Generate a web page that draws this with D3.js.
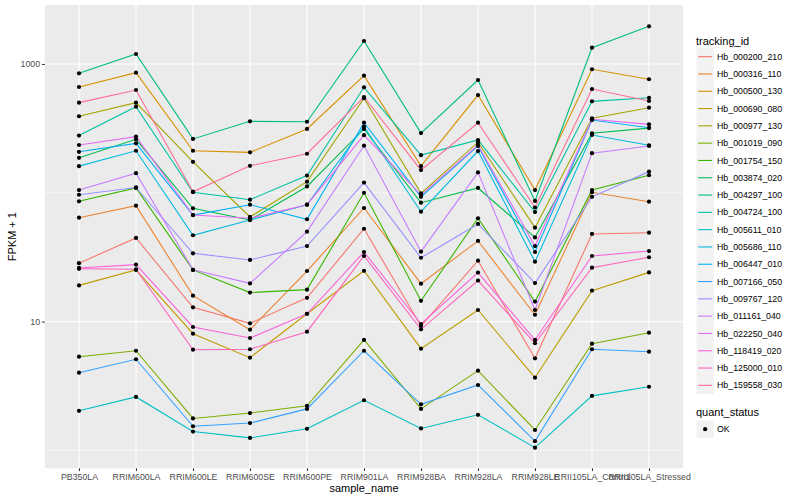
<!DOCTYPE html>
<html><head><meta charset="utf-8">
<script src="https://cdn.jsdelivr.net/npm/d3@7"></script>
<style>body{margin:0;background:#fff}svg{display:block;font-family:"Liberation Sans",Arial,sans-serif}</style>
</head><body><svg id="c" width="800" height="500"></svg>
<script>
const samples = ["PB350LA","RRIM600LA","RRIM600LE","RRIM600SE","RRIM600PE","RRIM901LA","RRIM928BA","RRIM928LA","RRIM928LE","RRII105LA_Control","RRII105LA_Stressed"];
const trackingIds = ["Hb_000200_210","Hb_000316_110","Hb_000500_130","Hb_000690_080","Hb_000977_130","Hb_001019_090","Hb_001754_150","Hb_003874_020","Hb_004297_100","Hb_004724_100","Hb_005611_010","Hb_005686_110","Hb_006447_010","Hb_007166_050","Hb_009767_120","Hb_011161_040","Hb_022250_040","Hb_118419_020","Hb_125000_010","Hb_159558_030"];
const palette = ["#F8766D","#EA8331","#D89000","#C09B00","#A3A500","#7CAE00","#39B600","#00BB4E","#00BF7D","#00C1A3","#00BFC4","#00BAE0","#00B0F6","#35A2FF","#9590FF","#C77CFF","#E76BF3","#FA62DB","#FF62BC","#FF6C91"];
// FPKM + 1 values, one array per tracking id (order = samples)
const hb_000200_210 = [28.4, 44.6, 12.9, 9.70, 15.3, 52.6, 9.24, 29.7, 5.19, 47.9, 49.0];
const hb_000316_110 = [64.1, 79.4, 15.9, 8.65, 24.7, 76.2, 19.7, 42.3, 11.3, 101, 85.3];
const hb_000500_130 = [663, 856, 212, 206, 313, 812, 161, 574, 105, 910, 761];
const hb_000690_080 = [19.1, 25.2, 8.05, 5.25, 11.5, 24.8, 6.16, 12.3, 3.67, 17.4, 24.1];
const hb_000977_130 = [393, 501, 174, 64.9, 122, 542, 99, 247, 53.6, 379, 458];
const hb_001019_090 = [5.34, 5.94, 1.77, 1.95, 2.22, 7.20, 2.10, 4.16, 1.44, 6.74, 8.20];
const hb_001754_150 = [85.9, 109, 25.2, 16.8, 17.7, 100, 14.5, 63.4, 14.3, 105, 137];
const hb_003874_020 = [187, 260, 75.8, 61.5, 112, 313, 83.8, 109, 45.0, 290, 318];
const hb_004297_100 = [847, 1196, 262, 359, 356, 1509, 291, 751, 86.4, 1338, 1962];
const hb_004724_100 = [278, 466, 101, 88.4, 136, 659, 196, 257, 70.9, 513, 547];
const hb_005611_010 = [2.03, 2.60, 1.40, 1.25, 1.47, 2.45, 1.48, 1.89, 1.05, 2.65, 3.12];
const hb_005686_110 = [161, 212, 46.8, 61.5, 80.8, 326, 71.3, 211, 29.2, 281, 234];
const hb_006447_010 = [208, 242, 67.2, 80.8, 62.3, 350, 93, 231, 34.7, 367, 320];
const hb_007166_050 = [4.01, 5.10, 1.54, 1.63, 2.10, 5.94, 2.28, 3.22, 1.18, 6.10, 5.84];
const hb_009767_120 = [96.6, 110, 33.9, 30.1, 38.6, 120, 31.3, 57.3, 19.9, 93, 146];
const hb_011161_040 = [105, 142, 25.2, 19.8, 49.9, 232, 34.9, 144, 12.3, 203, 231];
const hb_022250_040 = [235, 273, 67.2, 63.4, 80.8, 280, 96, 235, 38.6, 372, 340];
const hb_118419_020 = [26.1, 27.7, 9.08, 7.46, 11.5, 34.7, 9.58, 24.0, 7.20, 32.3, 35.3];
const hb_125000_010 = [25.7, 25.5, 6.05, 6.10, 8.35, 32.3, 8.71, 20.8, 6.79, 26.2, 31.6];
const hb_159558_030 = [501, 628, 102, 162, 201, 554, 150, 350, 76.9, 639, 516];
const yMajorTicks = [10, 1000];
const yMinorTicks = [1, 100];
const quantStatus = ["OK"];

const seriesValues = [hb_000200_210,hb_000316_110,hb_000500_130,hb_000690_080,hb_000977_130,hb_001019_090,hb_001754_150,hb_003874_020,hb_004297_100,hb_004724_100,hb_005611_010,hb_005686_110,hb_006447_010,hb_007166_050,hb_009767_120,hb_011161_040,hb_022250_040,hb_118419_020,hb_125000_010,hb_159558_030];
const series = trackingIds.map((id,i)=>({id, color: palette[i], values: seriesValues[i].map((v,j)=>({sample: samples[j], v}))}));

const svg = d3.select("#c");
const P = {l:44.8, r:683.2, t:5, b:468.3};
const x = d3.scalePoint().domain(samples).range([P.l, P.r]).padding(0.6);
const y = d3.scaleLog().domain([0.726, 2871]).range([P.b, P.t]);

svg.append("rect").attr("x",P.l).attr("y",P.t).attr("width",P.r-P.l).attr("height",P.b-P.t).attr("fill","#EBEBEB");
const g = svg.append("g");
g.selectAll(".ymin").data(yMinorTicks).enter().append("line")
  .attr("x1",P.l).attr("x2",P.r).attr("y1",d=>y(d)).attr("y2",d=>y(d)).attr("stroke","#fff").attr("stroke-width",0.55);
g.selectAll(".ymaj").data(yMajorTicks).enter().append("line")
  .attr("x1",P.l).attr("x2",P.r).attr("y1",d=>y(d)).attr("y2",d=>y(d)).attr("stroke","#fff").attr("stroke-width",1.1);
g.selectAll(".xmaj").data(samples).enter().append("line")
  .attr("x1",d=>x(d)).attr("x2",d=>x(d)).attr("y1",P.t).attr("y2",P.b).attr("stroke","#fff").attr("stroke-width",1.1);

const line = d3.line().x(d=>x(d.sample)).y(d=>y(d.v));
svg.append("g").selectAll("path").data(series).enter().append("path")
  .attr("d",d=>line(d.values)).attr("fill","none").attr("stroke",d=>d.color).attr("stroke-width",1.1);
svg.append("g").selectAll("g").data(series).enter().append("g")
  .selectAll("circle").data(d=>d.values).enter().append("circle")
  .attr("cx",d=>x(d.sample)).attr("cy",d=>y(d.v)).attr("r",2.1).attr("fill","#000");

// axes
const yAxis = d3.axisLeft(y).tickValues(yMajorTicks).tickFormat(d3.format("d")).tickSize(2.7).tickPadding(2);
const ya = svg.append("g").attr("transform",`translate(${P.l},0)`).call(yAxis);
const xAxis = d3.axisBottom(x).tickSize(2.7).tickPadding(2.5);
const xa = svg.append("g").attr("transform",`translate(0,${P.b})`).call(xAxis);
[ya,xa].forEach(a=>{
  a.select(".domain").remove();
  a.selectAll(".tick line").attr("stroke","#333").attr("stroke-width",1.07);
  a.selectAll(".tick text").attr("fill","#4D4D4D").style("font-size","8.8px").style("font-family","Liberation Sans, Arial, sans-serif");
});
svg.append("text").attr("x",(P.l+P.r)/2).attr("y",492).attr("text-anchor","middle").style("font-size","11px").text("sample_name");
svg.append("text").attr("transform",`translate(16,${(P.t+P.b)/2}) rotate(-90)`).attr("text-anchor","middle").style("font-size","11px").text("FPKM + 1");

// legend
const L = svg.append("g");
L.append("text").attr("x",696).attr("y",44.5).style("font-size","11px").text("tracking_id");
const keys = L.selectAll("g.k").data(series).enter().append("g").attr("transform",(d,i)=>`translate(696.5,${48+i*17.3})`);
keys.append("rect").attr("width",17.3).attr("height",17.3).attr("fill","#F2F2F2");
keys.append("line").attr("x1",1.7).attr("x2",15.6).attr("y1",8.65).attr("y2",8.65).attr("stroke",d=>d.color).attr("stroke-width",1.1);
keys.append("text").attr("x",20.5).attr("y",11.8).style("font-size","8.8px").attr("fill","#000").text(d=>d.id);
L.append("text").attr("x",696).attr("y",416).style("font-size","11px").text("quant_status");
const qk = L.selectAll("g.q").data(quantStatus).enter().append("g").attr("transform",(d,i)=>`translate(696.5,${420.5+i*17.3})`);
qk.append("rect").attr("width",17.3).attr("height",17.3).attr("fill","#F2F2F2");
qk.append("circle").attr("cx",8.65).attr("cy",8.65).attr("r",2.1).attr("fill","#000");
qk.append("text").attr("x",20.5).attr("y",11.8).style("font-size","8.8px").text(d=>d);
</script></body></html>
